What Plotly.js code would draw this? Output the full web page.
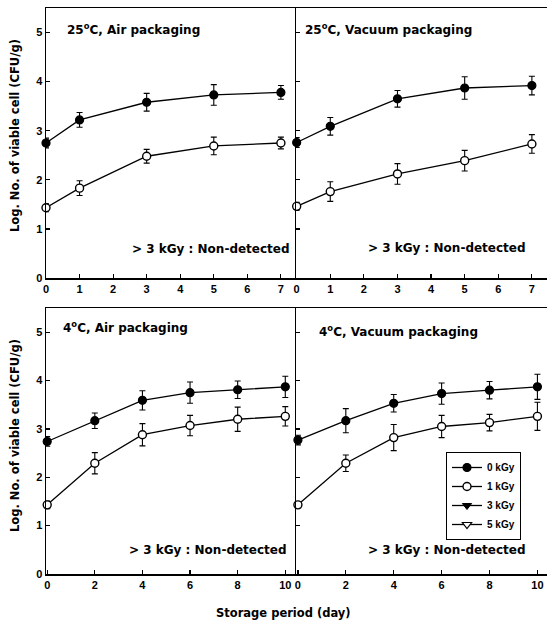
<!DOCTYPE html>
<html>
<head>
<meta charset="utf-8">
<script src="https://cdn.plot.ly/plotly-3.0.1.min.js"></script>
<style>html,body{margin:0;padding:0;background:#fff;}#chart{width:547px;height:624px;}</style>
</head>
<body>
<div id="chart"></div>
<script>
// ---- data ----
const daysWarm = [0, 1, 3, 5, 7];
const daysCold = [0, 2, 4, 6, 8, 10];

const air25_0kGy = [2.75, 3.22, 3.58, 3.73, 3.78];
const air25_0kGyErr = [0.10, 0.15, 0.18, 0.21, 0.14];
const air25_1kGy = [1.43, 1.83, 2.48, 2.69, 2.75];
const air25_1kGyErr = [0.08, 0.15, 0.14, 0.18, 0.12];

const vac25_0kGy = [2.76, 3.09, 3.65, 3.87, 3.92];
const vac25_0kGyErr = [0.10, 0.18, 0.17, 0.23, 0.19];
const vac25_1kGy = [1.46, 1.76, 2.12, 2.39, 2.73];
const vac25_1kGyErr = [0.08, 0.20, 0.21, 0.21, 0.19];

const air4_0kGy = [2.74, 3.17, 3.59, 3.75, 3.81, 3.87];
const air4_0kGyErr = [0.10, 0.16, 0.20, 0.22, 0.18, 0.22];
const air4_1kGy = [1.43, 2.29, 2.88, 3.07, 3.20, 3.26];
const air4_1kGyErr = [0.08, 0.22, 0.23, 0.21, 0.25, 0.20];

const vac4_0kGy = [2.77, 3.17, 3.53, 3.73, 3.80, 3.87];
const vac4_0kGyErr = [0.10, 0.25, 0.18, 0.22, 0.18, 0.26];
const vac4_1kGy = [1.43, 2.29, 2.82, 3.05, 3.13, 3.26];
const vac4_1kGyErr = [0.06, 0.17, 0.27, 0.23, 0.17, 0.29];

const doseLabels = ['0 kGy', '1 kGy', '3 kGy', '5 kGy'];
const panelTitles = ['25<sup>o</sup>C, Air packaging', '25<sup>o</sup>C, Vacuum packaging',
                     '4<sup>o</sup>C, Air packaging', '4<sup>o</sup>C, Vacuum packaging'];
const noteText = '> 3 kGy : Non-detected';
const yTitle = 'Log. No. of viable cell (CFU/g)';
const xTitle = 'Storage period (day)';
const warmTicks = [0, 1, 2, 3, 4, 5, 6, 7];
const coldTicks = [0, 2, 4, 6, 8, 10];
const yTicks = [0, 1, 2, 3, 4, 5];

// ---- styles ----
const FONT = 'Liberation Sans, Arial, sans-serif';
const HEAVY = 'DejaVu Sans, Liberation Sans, Arial, sans-serif';
const filled = {symbol: 'circle', size: 8, color: '#000', line: {color: '#000', width: 1.2}};
const open = {symbol: 'circle', size: 8, color: '#fff', line: {color: '#000', width: 1.4}};
const lineStyle = {color: '#000', width: 1.3};
function err(arr) { return {type: 'data', array: arr, visible: true, color: '#000', thickness: 1.1, width: 3}; }

const panels = [
  {x: daysWarm, a: air25_0kGy, ae: air25_0kGyErr, b: air25_1kGy, be: air25_1kGyErr, xa: 'x', ya: 'y'},
  {x: daysWarm, a: vac25_0kGy, ae: vac25_0kGyErr, b: vac25_1kGy, be: vac25_1kGyErr, xa: 'x2', ya: 'y2'},
  {x: daysCold, a: air4_0kGy, ae: air4_0kGyErr, b: air4_1kGy, be: air4_1kGyErr, xa: 'x3', ya: 'y3'},
  {x: daysCold, a: vac4_0kGy, ae: vac4_0kGyErr, b: vac4_1kGy, be: vac4_1kGyErr, xa: 'x4', ya: 'y4'}
];

const traces = [];
panels.forEach((p, i) => {
  const leg = (i === 3);
  traces.push({type: 'scatter', mode: 'lines+markers', x: p.x, y: p.b, error_y: err(p.be),
    xaxis: p.xa, yaxis: p.ya, name: doseLabels[1], marker: open, line: lineStyle,
    showlegend: leg, legendrank: 2, cliponaxis: false});
  traces.push({type: 'scatter', mode: 'lines+markers', x: p.x, y: p.a, error_y: err(p.ae),
    xaxis: p.xa, yaxis: p.ya, name: doseLabels[0], marker: filled, line: lineStyle,
    showlegend: leg, legendrank: 1, cliponaxis: false});
});
// non-detected doses: legend entries only
traces.push({type: 'scatter', mode: 'lines+markers', x: [null], y: [null], xaxis: 'x4', yaxis: 'y4',
  name: doseLabels[2], marker: {symbol: 'triangle-down', size: 8, color: '#000', line: {color: '#000', width: 1}},
  line: lineStyle, showlegend: true, legendrank: 3});
traces.push({type: 'scatter', mode: 'lines+markers', x: [null], y: [null], xaxis: 'x4', yaxis: 'y4',
  name: doseLabels[3], marker: {symbol: 'triangle-down', size: 8, color: '#fff', line: {color: '#000', width: 1.2}},
  line: lineStyle, showlegend: true, legendrank: 4});

const W = 547, H = 624;
const px = v => v / W, py = v => 1 - v / H;
const xL = [px(46), px(296)], xR = [px(296), 1];
const yT = [py(278), py(8)], yB = [py(574), py(308)];

function xax(domain, ticks, range) {
  return {domain: domain, range: range, tickvals: ticks, ticktext: ticks.map(String),
    ticks: 'inside', ticklen: 4, tickwidth: 1.2, tickcolor: '#000',
    showline: true, linecolor: '#000', linewidth: 1.5, mirror: true,
    showgrid: false, zeroline: false, automargin: false,
    tickfont: {family: FONT, size: 11, color: '#000', weight: 'bold'}};
}
function yax(domain, labels) {
  return {domain: domain, range: [0, 5.5], tickvals: yTicks, ticktext: yTicks.map(String),
    showticklabels: labels,
    ticks: 'inside', ticklen: 4, tickwidth: 1.2, tickcolor: '#000',
    showline: true, linecolor: '#000', linewidth: 1.5, mirror: false,
    showgrid: false, zeroline: false, automargin: false,
    tickfont: {family: FONT, size: 11, color: '#000', weight: 'bold'}};
}

const ann = [];
const titlePos = [[0.076, 0.922], [0.028, 0.922], [0.06, 0.93], [0.084, 0.915]];
const notePos = [[0.985, 0.107], [0.925, 0.11], [0.97, 0.09], [0.925, 0.09]];
const refs = [['x domain', 'y domain'], ['x2 domain', 'y2 domain'], ['x3 domain', 'y3 domain'], ['x4 domain', 'y4 domain']];
for (let i = 0; i < 4; i++) {
  ann.push({text: panelTitles[i], xref: refs[i][0], yref: refs[i][1], x: titlePos[i][0], y: titlePos[i][1],
    xanchor: 'left', yanchor: 'middle', showarrow: false,
    font: {family: HEAVY, size: 12, color: '#000', weight: 'bold'}});
  ann.push({text: noteText, xref: refs[i][0], yref: refs[i][1], x: notePos[i][0], y: notePos[i][1],
    xanchor: 'right', yanchor: 'middle', showarrow: false,
    font: {family: HEAVY, size: 12, color: '#000', weight: 'bold'}});
}
ann.push({text: yTitle, xref: 'paper', yref: 'paper', x: px(15), y: py(136), textangle: -90,
  xanchor: 'center', yanchor: 'middle', showarrow: false, font: {family: HEAVY, size: 11.5, color: '#000', weight: 'bold'}});
ann.push({text: yTitle, xref: 'paper', yref: 'paper', x: px(15), y: py(436), textangle: -90,
  xanchor: 'center', yanchor: 'middle', showarrow: false, font: {family: HEAVY, size: 11.5, color: '#000', weight: 'bold'}});
ann.push({text: xTitle, xref: 'paper', yref: 'paper', x: px(284), y: py(613),
  xanchor: 'center', yanchor: 'middle', showarrow: false, font: {family: HEAVY, size: 11.5, color: '#000', weight: 'bold'}});

const layout = {
  width: W, height: H,
  margin: {l: 0, r: 0, t: 0, b: 0},
  paper_bgcolor: '#fff', plot_bgcolor: 'rgba(0,0,0,0)',
  font: {family: FONT, color: '#000'},
  showlegend: true,
  legend: {x: px(446), y: py(452), xanchor: 'left', yanchor: 'top',
    bgcolor: '#fff', bordercolor: '#000', borderwidth: 1,
    font: {family: FONT, size: 10, color: '#000', weight: 'bold'}, tracegroupgap: 0, itemwidth: 30},
  xaxis: xax(xL, warmTicks, [0, 7.45]), yaxis: yax(yT, true),
  xaxis2: xax(xR, warmTicks, [-0.02, 7.45]), yaxis2: yax(yT, false),
  xaxis3: xax(xL, coldTicks, [-0.05, 10.45]), yaxis3: yax(yB, true),
  xaxis4: xax(xR, coldTicks, [-0.08, 10.4]), yaxis4: yax(yB, false),
  annotations: ann
};
layout.xaxis.anchor = 'y'; layout.xaxis2.anchor = 'y2'; layout.xaxis3.anchor = 'y3'; layout.xaxis4.anchor = 'y4';
layout.yaxis.anchor = 'x'; layout.yaxis2.anchor = 'x2'; layout.yaxis3.anchor = 'x3'; layout.yaxis4.anchor = 'x4';

Plotly.newPlot('chart', traces, layout, {staticPlot: true, displayModeBar: false});
</script>
</body>
</html>
